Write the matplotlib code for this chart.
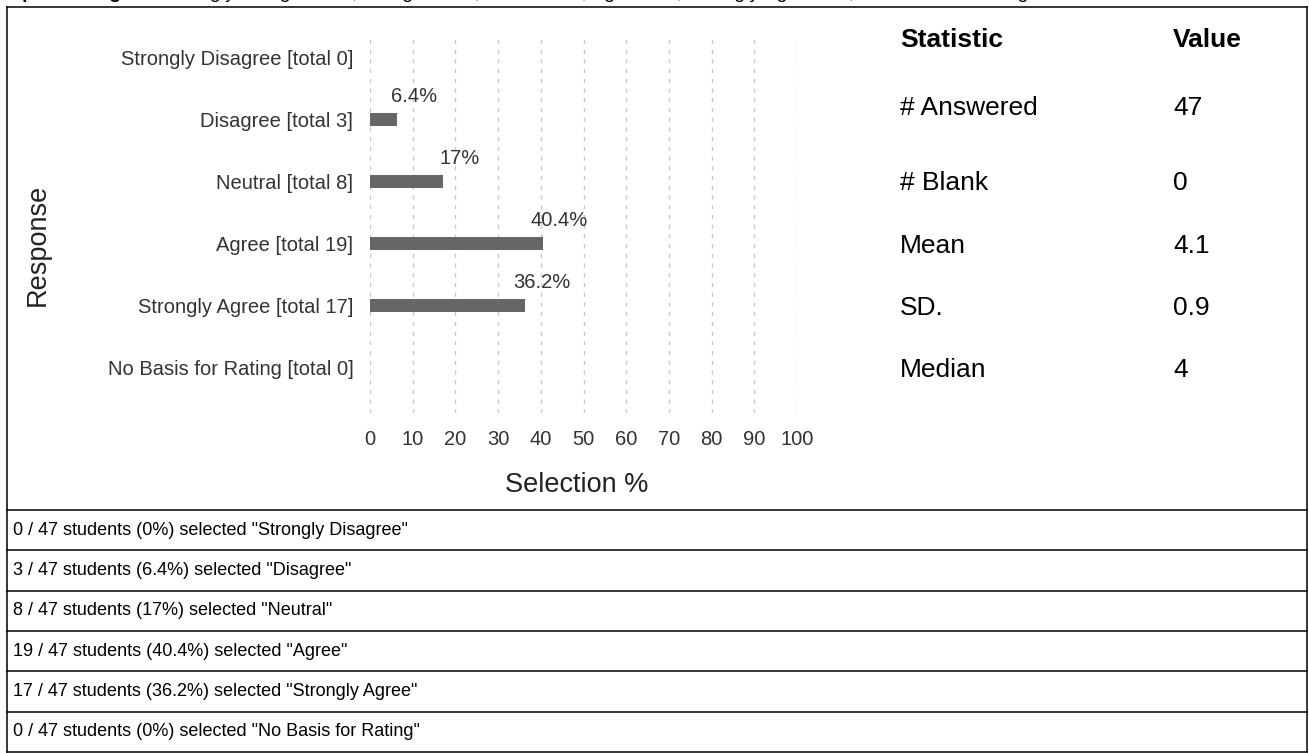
import matplotlib
matplotlib.use("Agg")
import matplotlib.pyplot as plt
from matplotlib.lines import Line2D

plt.rcParams['font.family'] = ['Liberation Sans', 'DejaVu Sans']

# ---- data ----
categories = ["Strongly Disagree", "Disagree", "Neutral", "Agree",
              "Strongly Agree", "No Basis for Rating"]
counts = [0, 3, 8, 19, 17, 0]
percents = [0, 6.4, 17, 40.4, 36.2, 0]
pct_labels = ["0%", "6.4%", "17%", "40.4%", "36.2%", "0%"]
n_total = 47
stat_names = ["# Answered", "# Blank", "Mean", "SD.", "Median"]
stat_values = ["47", "0", "4.1", "0.9", "4"]
x_ticks = [0, 10, 20, 30, 40, 50, 60, 70, 80, 90, 100]
title_bold = "Option Weights:"
title_rest = ("Strongly Disagree = 1, Disagree = 2, Neutral = 3, "
              "Agree = 4, Strongly Agree = 5, No Basis for Rating = 0")

W, H = 1309, 753
fig = plt.figure(figsize=(W / 100, H / 100), dpi=100)


def fx(px):
    return px / W


def fy(py):
    return 1 - py / H


# clipped heading at the very top (only the descenders show, as in the source)
t1 = fig.text(fx(7), fy(-2), title_bold, fontsize=14, fontweight='bold',
              va='baseline', ha='left')
fig.canvas.draw()
bb = t1.get_window_extent()
fig.text(fx(bb.x1 + 6), fy(-2), title_rest, fontsize=14,
         va='baseline', ha='left')

# ---- bar chart ----
ax = fig.add_axes([fx(370), fy(413), fx(797) - fx(370), fy(35) - fy(413)])
ypos = list(range(len(categories)))
ax.barh(ypos, percents, height=0.21, color='#666666', edgecolor='none',
        zorder=3)
for y, p, lab in zip(ypos, percents, pct_labels):
    if p > 0:
        ax.annotate(lab, (p, y), xytext=(17, 23), textcoords='offset pixels',
                    ha='center', va='center', fontsize=14.5, color='#333333')

ax.set_xlim(0, 100)
ax.set_ylim(5.73, -0.37)
ax.set_xticks(x_ticks)
ax.set_xticklabels([str(t) for t in x_ticks], fontsize=14.5, color='#333333')
ax.set_yticks(ypos)
ax.set_yticklabels([f"{c} [total {n}]" for c, n in zip(categories, counts)],
                   fontsize=14.5, color='#333333')
ax.tick_params(length=0, pad=12)
ax.xaxis.grid(True, linestyle=(0, (3, 4)), color='#c8c8c8', linewidth=1)
ax.set_axisbelow(True)
for s in ax.spines.values():
    s.set_visible(False)

fig.text(fx(38), fy(245), "Response", rotation=90, fontsize=19.5,
         ha='center', va='center', color='#222222')
fig.text(fx(577), fy(485), "Selection %", fontsize=19.5,
         ha='center', va='center', color='#222222')

# ---- statistics table ----
fig.text(fx(900), fy(40), "Statistic", fontsize=19, fontweight='bold',
         ha='left', va='center')
fig.text(fx(1173), fy(40), "Value", fontsize=19, fontweight='bold',
         ha='left', va='center')
stat_rows = [108, 183, 246, 308, 370]
for yy, name, val in zip(stat_rows, stat_names, stat_values):
    fig.text(fx(900), fy(yy), name, fontsize=19, ha='left', va='center')
    fig.text(fx(1173), fy(yy), val, fontsize=19, ha='left', va='center')

# ---- box outlines and text rows ----
left, right = 7, 1307
top, split, bottom = 7, 510, 752
row_h = (bottom - split) / len(categories)


def hline(py):
    fig.add_artist(Line2D([fx(left), fx(right)], [fy(py), fy(py)],
                          color='black', linewidth=1.1))


hline(top)
hline(split)
for i in range(len(categories)):
    hline(split + row_h * (i + 1))
for xx in (left, right):
    fig.add_artist(Line2D([fx(xx), fx(xx)], [fy(top), fy(bottom)],
                          color='black', linewidth=1.1))

for i, (c, n, lab) in enumerate(zip(categories, counts, pct_labels)):
    yc = split + row_h * (i + 0.5)
    fig.text(fx(13), fy(yc), f'{n} / {n_total} students ({lab}) selected "{c}"',
             fontsize=13, ha='left', va='center')

fig.savefig("out.png", dpi=100)
